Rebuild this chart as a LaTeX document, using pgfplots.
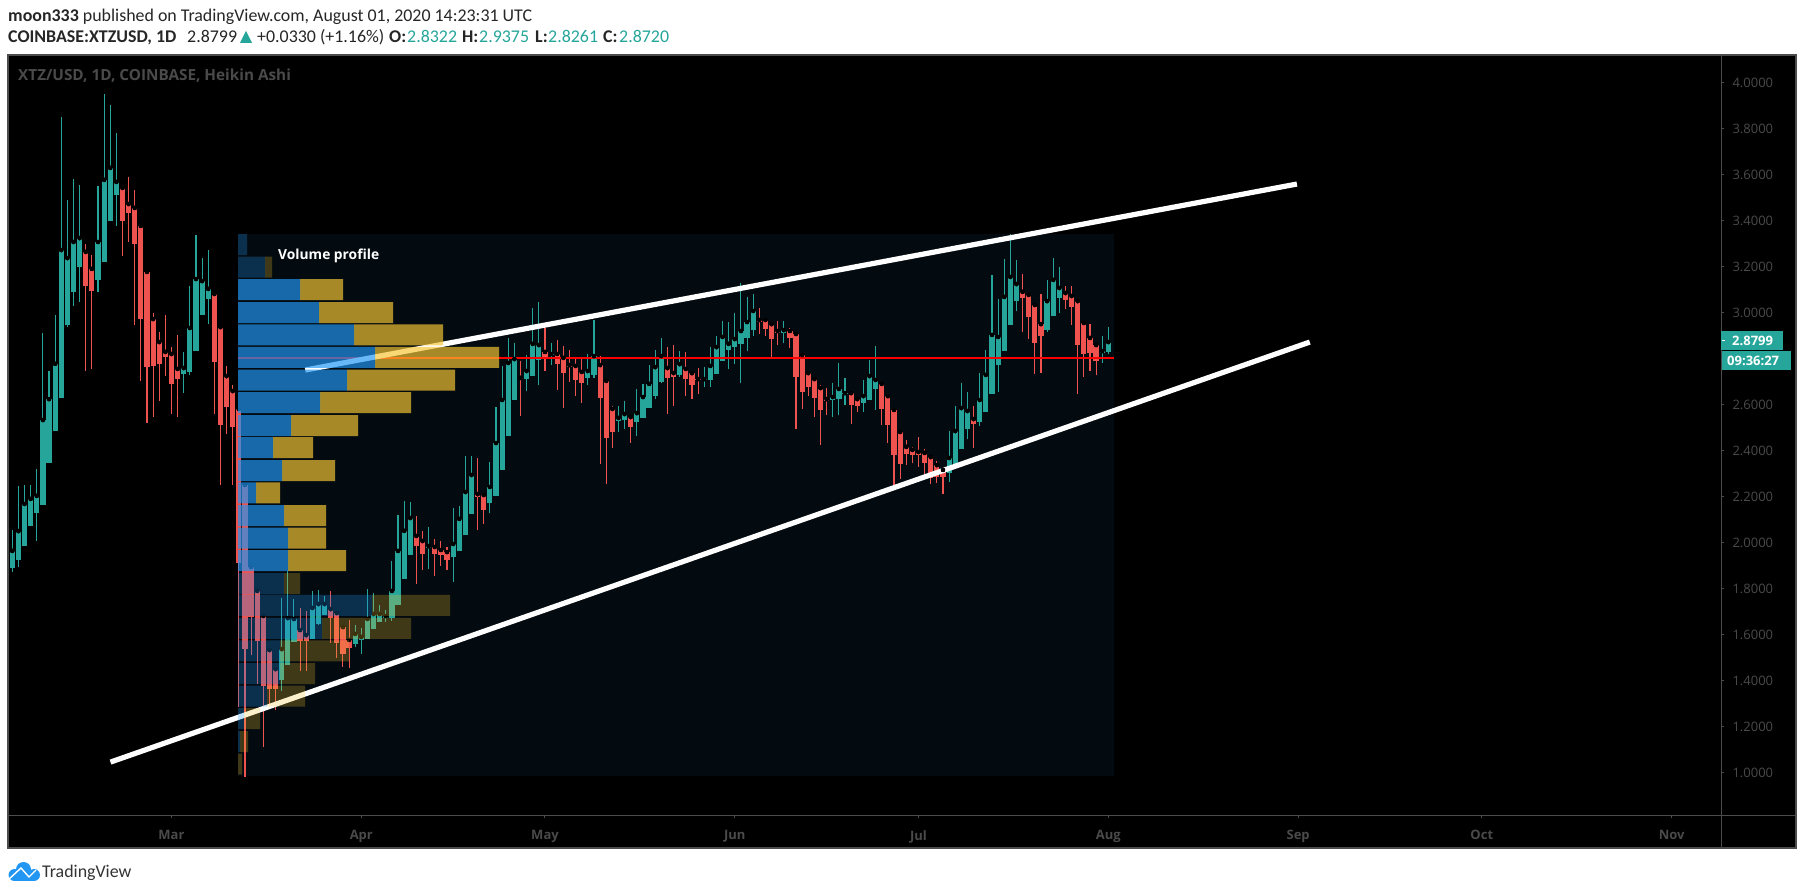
\documentclass[border=0pt]{standalone}
\usepackage{fontspec}
\usepackage{pgfplots}
\usepackage{pgfplotstable}
\pgfplotsset{compat=1.18}
\setmainfont{Open Sans}
\newfontfamily\hdr{Carlito}
\definecolor{tvg}{HTML}{26A69A}
\definecolor{tvr}{HTML}{EF5350}
\definecolor{tvaxis}{HTML}{4C4C4C}
\definecolor{tvtxt}{HTML}{4A4A4A}
\definecolor{vpb}{HTML}{2196F3}
\definecolor{vpg}{HTML}{F5C533}
\definecolor{panel}{HTML}{040B10}
\pgfplotstableread{
d h t b l
-26 2.055 1.964 1.890 1.872
-25 2.246 2.050 1.924 1.894
-24 2.250 2.168 1.985 1.985
-23 2.250 2.190 2.072 2.072
-22 2.320 2.203 2.129 2.007
-21 2.911 2.533 2.164 2.164
-20 2.746 2.624 2.346 2.346
-19 2.990 2.777 2.485 2.485
-18 3.851 3.272 2.629 2.629
-17 3.490 3.237 2.946 2.937
-16 3.581 3.307 3.090 3.029
-15 3.555 3.324 3.198 3.046
-12 3.551 3.307 3.142 3.090
-11 3.950 3.577 3.220 3.220
-10 3.903 3.629 3.398 3.398
-9 3.781 3.568 3.511 3.377
2 2.829 2.759 2.733 2.651
3 3.116 2.933 2.742 2.729
4 3.337 3.146 2.833 2.833
5 3.237 3.137 2.990 2.990
6 3.272 3.103 3.059 2.951
18 1.759 1.537 1.403 1.355
19 1.877 1.672 1.468 1.468
20 1.755 1.668 1.568 1.568
23 1.790 1.716 1.581 1.581
24 1.794 1.733 1.646 1.642
25 1.768 1.733 1.685 1.685
30 1.642 1.603 1.559 1.546
31 1.629 1.590 1.577 1.516
32 1.798 1.668 1.581 1.581
33 1.781 1.690 1.624 1.624
34 1.729 1.690 1.655 1.655
35 1.707 1.681 1.672 1.655
36 1.920 1.790 1.672 1.659
37 2.120 1.964 1.729 1.729
38 2.181 2.051 1.842 1.842
39 2.177 2.107 1.946 1.946
42 2.068 1.985 1.977 1.885
46 2.150 1.994 1.937 1.829
47 2.159 2.103 1.964 1.964
48 2.377 2.220 2.033 2.033
49 2.377 2.294 2.124 2.124
52 2.350 2.242 2.172 2.129
53 2.590 2.433 2.203 2.203
54 2.768 2.620 2.316 2.316
55 2.890 2.781 2.464 2.464
56 2.868 2.798 2.620 2.620
58 2.816 2.746 2.711 2.659
59 3.020 2.864 2.724 2.724
60 3.046 2.859 2.794 2.685
62 2.868 2.820 2.816 2.772
68 2.820 2.746 2.716 2.685
69 2.968 2.811 2.729 2.716
73 2.594 2.542 2.529 2.481
74 2.616 2.559 2.533 2.494
76 2.668 2.563 2.524 2.464
77 2.690 2.633 2.542 2.542
78 2.772 2.690 2.585 2.585
79 2.837 2.763 2.637 2.624
80 2.890 2.811 2.698 2.694
83 2.833 2.776 2.729 2.720
87 2.763 2.711 2.707 2.676
88 2.850 2.768 2.707 2.676
89 2.898 2.850 2.733 2.733
90 2.964 2.894 2.790 2.790
91 2.959 2.864 2.837 2.755
92 2.998 2.885 2.850 2.776
93 3.129 2.920 2.864 2.694
94 3.068 2.959 2.890 2.833
95 3.081 3.007 2.924 2.898
100 2.964 2.924 2.911 2.868
108 2.694 2.633 2.620 2.546
109 2.781 2.668 2.624 2.555
110 2.716 2.650 2.646 2.598
113 2.707 2.637 2.607 2.568
114 2.794 2.724 2.620 2.620
115 2.855 2.707 2.668 2.577
127 2.485 2.368 2.303 2.264
128 2.594 2.485 2.333 2.333
129 2.694 2.585 2.407 2.407
130 2.655 2.572 2.494 2.451
132 2.737 2.620 2.524 2.507
133 2.837 2.729 2.568 2.568
134 3.164 2.903 2.646 2.646
135 3.059 2.894 2.772 2.655
136 3.233 3.068 2.833 2.833
137 3.342 3.155 2.946 2.946
138 3.229 3.124 3.050 3.007
143 3.142 3.050 2.924 2.916
144 3.237 3.142 2.985 2.985
145 3.198 3.107 3.064 2.998
152 2.898 2.833 2.824 2.781
153 2.937 2.872 2.829 2.820
}\greentab
\pgfplotstableread{
d h t b l
-14 3.298 3.264 3.116 2.746
-13 3.250 3.190 3.094 2.755
-8 3.542 3.542 3.398 3.246
-7 3.590 3.472 3.433 3.307
-6 3.533 3.455 3.298 2.946
-5 3.377 3.377 2.972 2.703
-4 3.177 3.177 2.764 2.520
-3 2.998 2.972 2.768 2.546
-2 2.916 2.872 2.777 2.616
-1 2.990 2.829 2.807 2.724
0 2.851 2.820 2.690 2.559
1 2.903 2.755 2.711 2.546
7 3.081 3.081 2.785 2.559
8 2.937 2.937 2.511 2.250
9 2.768 2.724 2.590 2.472
10 2.685 2.659 2.503 2.250
11 2.581 2.581 1.911 1.287
12 2.251 2.251 1.537 0.982
13 1.894 1.894 1.677 1.511
14 1.790 1.790 1.572 1.385
15 1.681 1.681 1.377 1.111
16 1.533 1.533 1.364 1.290
17 1.450 1.450 1.364 1.272
21 1.716 1.620 1.572 1.442
22 1.703 1.598 1.572 1.442
26 1.790 1.711 1.672 1.564
27 1.694 1.694 1.564 1.498
28 1.633 1.633 1.516 1.459
29 1.664 1.577 1.542 1.455
40 2.116 2.029 1.985 1.820
41 2.051 2.007 1.951 1.881
43 2.016 1.981 1.951 1.855
44 2.007 1.968 1.946 1.898
45 1.981 1.959 1.924 1.881
50 2.368 2.211 2.198 2.055
51 2.216 2.207 2.142 2.081
57 2.790 2.716 2.711 2.550
61 2.933 2.829 2.803 2.746
63 2.881 2.820 2.776 2.664
64 2.855 2.803 2.737 2.585
65 2.837 2.772 2.763 2.698
66 2.803 2.768 2.707 2.637
67 2.803 2.742 2.694 2.607
70 2.811 2.772 2.629 2.342
71 2.703 2.703 2.455 2.255
72 2.594 2.581 2.481 2.411
75 2.555 2.546 2.503 2.433
81 2.850 2.759 2.716 2.559
82 2.859 2.737 2.720 2.594
84 2.829 2.755 2.711 2.637
85 2.746 2.737 2.685 2.624
86 2.759 2.711 2.707 2.646
96 3.020 2.968 2.959 2.907
97 2.972 2.968 2.929 2.898
98 2.950 2.950 2.885 2.803
99 2.964 2.920 2.911 2.859
101 2.933 2.920 2.890 2.846
102 2.907 2.907 2.720 2.494
103 2.816 2.816 2.655 2.581
104 2.737 2.737 2.677 2.637
105 2.711 2.711 2.629 2.546
106 2.685 2.672 2.577 2.424
107 2.672 2.624 2.616 2.555
111 2.659 2.650 2.598 2.516
112 2.624 2.624 2.594 2.568
116 2.690 2.690 2.581 2.511
117 2.637 2.637 2.511 2.433
118 2.577 2.577 2.381 2.246
119 2.481 2.481 2.342 2.277
120 2.446 2.416 2.385 2.337
121 2.416 2.403 2.381 2.346
122 2.459 2.394 2.381 2.329
123 2.407 2.390 2.346 2.290
124 2.372 2.372 2.281 2.255
125 2.355 2.337 2.285 2.259
126 2.324 2.316 2.285 2.211
131 2.594 2.537 2.516 2.411
139 3.168 3.090 3.064 2.916
140 3.077 3.077 2.981 2.885
141 3.033 3.033 2.868 2.733
142 3.081 2.950 2.898 2.737
146 3.116 3.085 3.055 3.016
147 3.116 3.072 3.024 2.946
148 3.050 3.050 2.859 2.646
149 2.955 2.955 2.820 2.720
150 2.950 2.890 2.824 2.746
151 2.859 2.859 2.790 2.729
}\redtab
\pgfplotstableread{
p up down
3.100 62 43
3.000 81 74
2.903 116 89
2.805 137 124
2.707 109 108
2.609 82 91
2.509 53 67
2.413 35 40
2.313 44 53
2.216 18 24
2.118 46 42
2.020 50 38
1.922 50 58
}\vpbright
\pgfplotstableread{
p up down
3.296 9 0
3.198 27 7
1.822 46 16
1.727 134 78
1.627 84 89
1.529 42 69
1.431 42 35
1.333 29 38
1.235 6 16
1.135 2 8
1.037 0 4
}\vpdim
\pgfplotsset{
  frame/.style={scale only axis,width=1713pt,height=760pt,at={(8pt,80pt)},anchor=south west,
    ymin=0.816,ymax=4.120},
  wick/.style={only marks,mark=none,forget plot,
    error bars/.cd,y dir=both,y explicit,error mark=none,
    error bar style={line width=1.1pt,color=#1,solid}},
  body/.style={only marks,mark=none,forget plot,
    error bars/.cd,y dir=minus,y explicit,error mark=none,
    error bar style={line width=5.2pt,color=#1,solid}},
}
\begin{document}
\begin{tikzpicture}[x=1pt,y=1pt]
\path[use as bounding box,fill=white] (0,0) rectangle (1805,895);
\fill[black] (8,47) rectangle (1796,840);
\draw[tvaxis,line width=1.2pt] (8,47) rectangle (1796,840);
\begin{axis}[frame,xmin=-26.70,xmax=253.06,
  axis x line*=bottom,axis y line*=right,
  axis line style={tvaxis,line width=1pt},
  tick align=outside,major tick length=3pt,
  tick style={tvaxis,line width=1pt},
  xtick={0,31,61,92,122,153,184,214,245},
  xticklabels={Mar,Apr,May,Jun,Jul,Aug,Sep,Oct,Nov},
  ytick={1,1.2,1.4,1.6,1.8,2,2.2,2.4,2.6,3,3.2,3.4,3.6,3.8,4},
  yticklabels={1.0000,1.2000,1.4000,1.6000,1.8000,2.0000,2.2000,2.4000,2.6000,3.0000,3.2000,3.4000,3.6000,3.8000,4.0000},
  ticklabel style={font=\fontsize{13}{15}\selectfont,text=tvtxt},
  xticklabel style={font=\fontsize{13}{15}\selectfont\bfseries,yshift=-9pt},
  yticklabel style={xshift=5pt},
]
\addplot[fill=panel,draw=none,forget plot] coordinates {(10.86,0.985)(153.93,0.985)(153.93,3.342)(10.86,3.342)} -- cycle;
\addplot[wick=tvg] table[x=d,y=t,y error plus expr=\thisrow{h}-\thisrow{t},y error minus expr=\thisrow{t}-\thisrow{l}]{\greentab};
\addplot[wick=tvr] table[x=d,y=t,y error plus expr=\thisrow{h}-\thisrow{t},y error minus expr=\thisrow{t}-\thisrow{l}]{\redtab};
\addplot[body=tvg] table[x=d,y=t,y error minus expr=\thisrow{t}-\thisrow{b}]{\greentab};
\addplot[body=tvr] table[x=d,y=t,y error minus expr=\thisrow{t}-\thisrow{b}]{\redtab};
\addplot[red,line width=2pt,forget plot] coordinates {(10.86,2.8026)(153.93,2.8026)};
\addplot[white,line width=5.2pt,forget plot] coordinates {(21.85,2.7504)(183.8,3.559)};
\addplot[white,line width=5.2pt,forget plot] coordinates {(-9.96,1.046)(185.9,2.872)};
\end{axis}
\begin{axis}[frame,hide axis,xmin=-230,xmax=1483,xbar stacked,bar width=0.0913,clip=false]
\addplot[fill=vpb,draw=none,fill opacity=0.68] table[x=up,y=p]{\vpbright};
\addplot[fill=vpg,draw=none,fill opacity=0.68] table[x=down,y=p]{\vpbright};
\end{axis}
\begin{axis}[frame,hide axis,xmin=-230,xmax=1483,xbar stacked,bar width=0.0913,clip=false]
\addplot[fill=vpb,draw=none,fill opacity=0.27] table[x=up,y=p]{\vpdim};
\addplot[fill=vpg,draw=none,fill opacity=0.25] table[x=down,y=p]{\vpdim};
\end{axis}
% frame extensions
\draw[tvaxis,line width=1pt] (1721,80)--(1721,47);
\draw[tvaxis,line width=1pt] (1721,80)--(1796,80);
\node[anchor=west,inner sep=0,text=white,font=\fontsize{13.8}{15}\selectfont\bfseries] at (278,639) {Volume profile};
\node[anchor=west,inner sep=0,text=tvtxt,font=\fontsize{15.3}{17}\selectfont\bfseries] at (18,819) {XTZ/USD, 1D, COINBASE, Heikin Ashi};
% last price tags
\fill[tvg] (1721,545) rectangle (1783,564);
\fill[tvg] (1722,525) rectangle (1791,544);
\draw[white,line width=1pt] (1722,554.5)--(1725,554.5);
\node[anchor=west,inner sep=0,text=white,font=\fontsize{13}{15}\selectfont\bfseries] at (1732,554.5) {2.8799};
\node[anchor=west,inner sep=0,text=white,font=\fontsize{13}{15}\selectfont\bfseries] at (1727,534.5) {09:36:27};
% header
\begin{scope}[every node/.style={anchor=base west,inner sep=0,font=\hdr\fontsize{17.9}{19}\selectfont,text=black!85}]
\node at (8,873) {\textbf{moon333} published on TradingView.com, August 01, 2020 14:23:31 UTC};
\node at (8,852) {\textbf{COINBASE:XTZUSD, 1D}};
\node at (187,852) {2.8799};
\node at (257,852) {+0.0330 (+1.16\%)};
\node at (389,852) {\textbf{O:}};
\node[text=tvg] at (407,852) {2.8322};
\node at (462,852) {\textbf{H:}};
\node[text=tvg] at (479,852) {2.9375};
\node at (535,852) {\textbf{L:}};
\node[text=tvg] at (548,852) {2.8261};
\node at (603,852) {\textbf{C:}};
\node[text=tvg] at (619,852) {2.8720};
\end{scope}
\fill[tvg] (240,852)--(252,852)--(246,864)--cycle;
% logo
\fill[vpb] (23.5,25.5) circle (7.5);
\fill[vpb] (14.5,20) circle (6);
\fill[vpb] (34,20) circle (6);
\fill[vpb] (14.5,14) rectangle (34,22);
\draw[white,line width=1.4pt] (8,15)--(21,27)--(29,18)--(36,25);
\node[anchor=base west,inner sep=0,font=\hdr\fontsize{17.9}{19}\selectfont,text=black!80] at (42,18) {TradingView};
\end{tikzpicture}
\end{document}
